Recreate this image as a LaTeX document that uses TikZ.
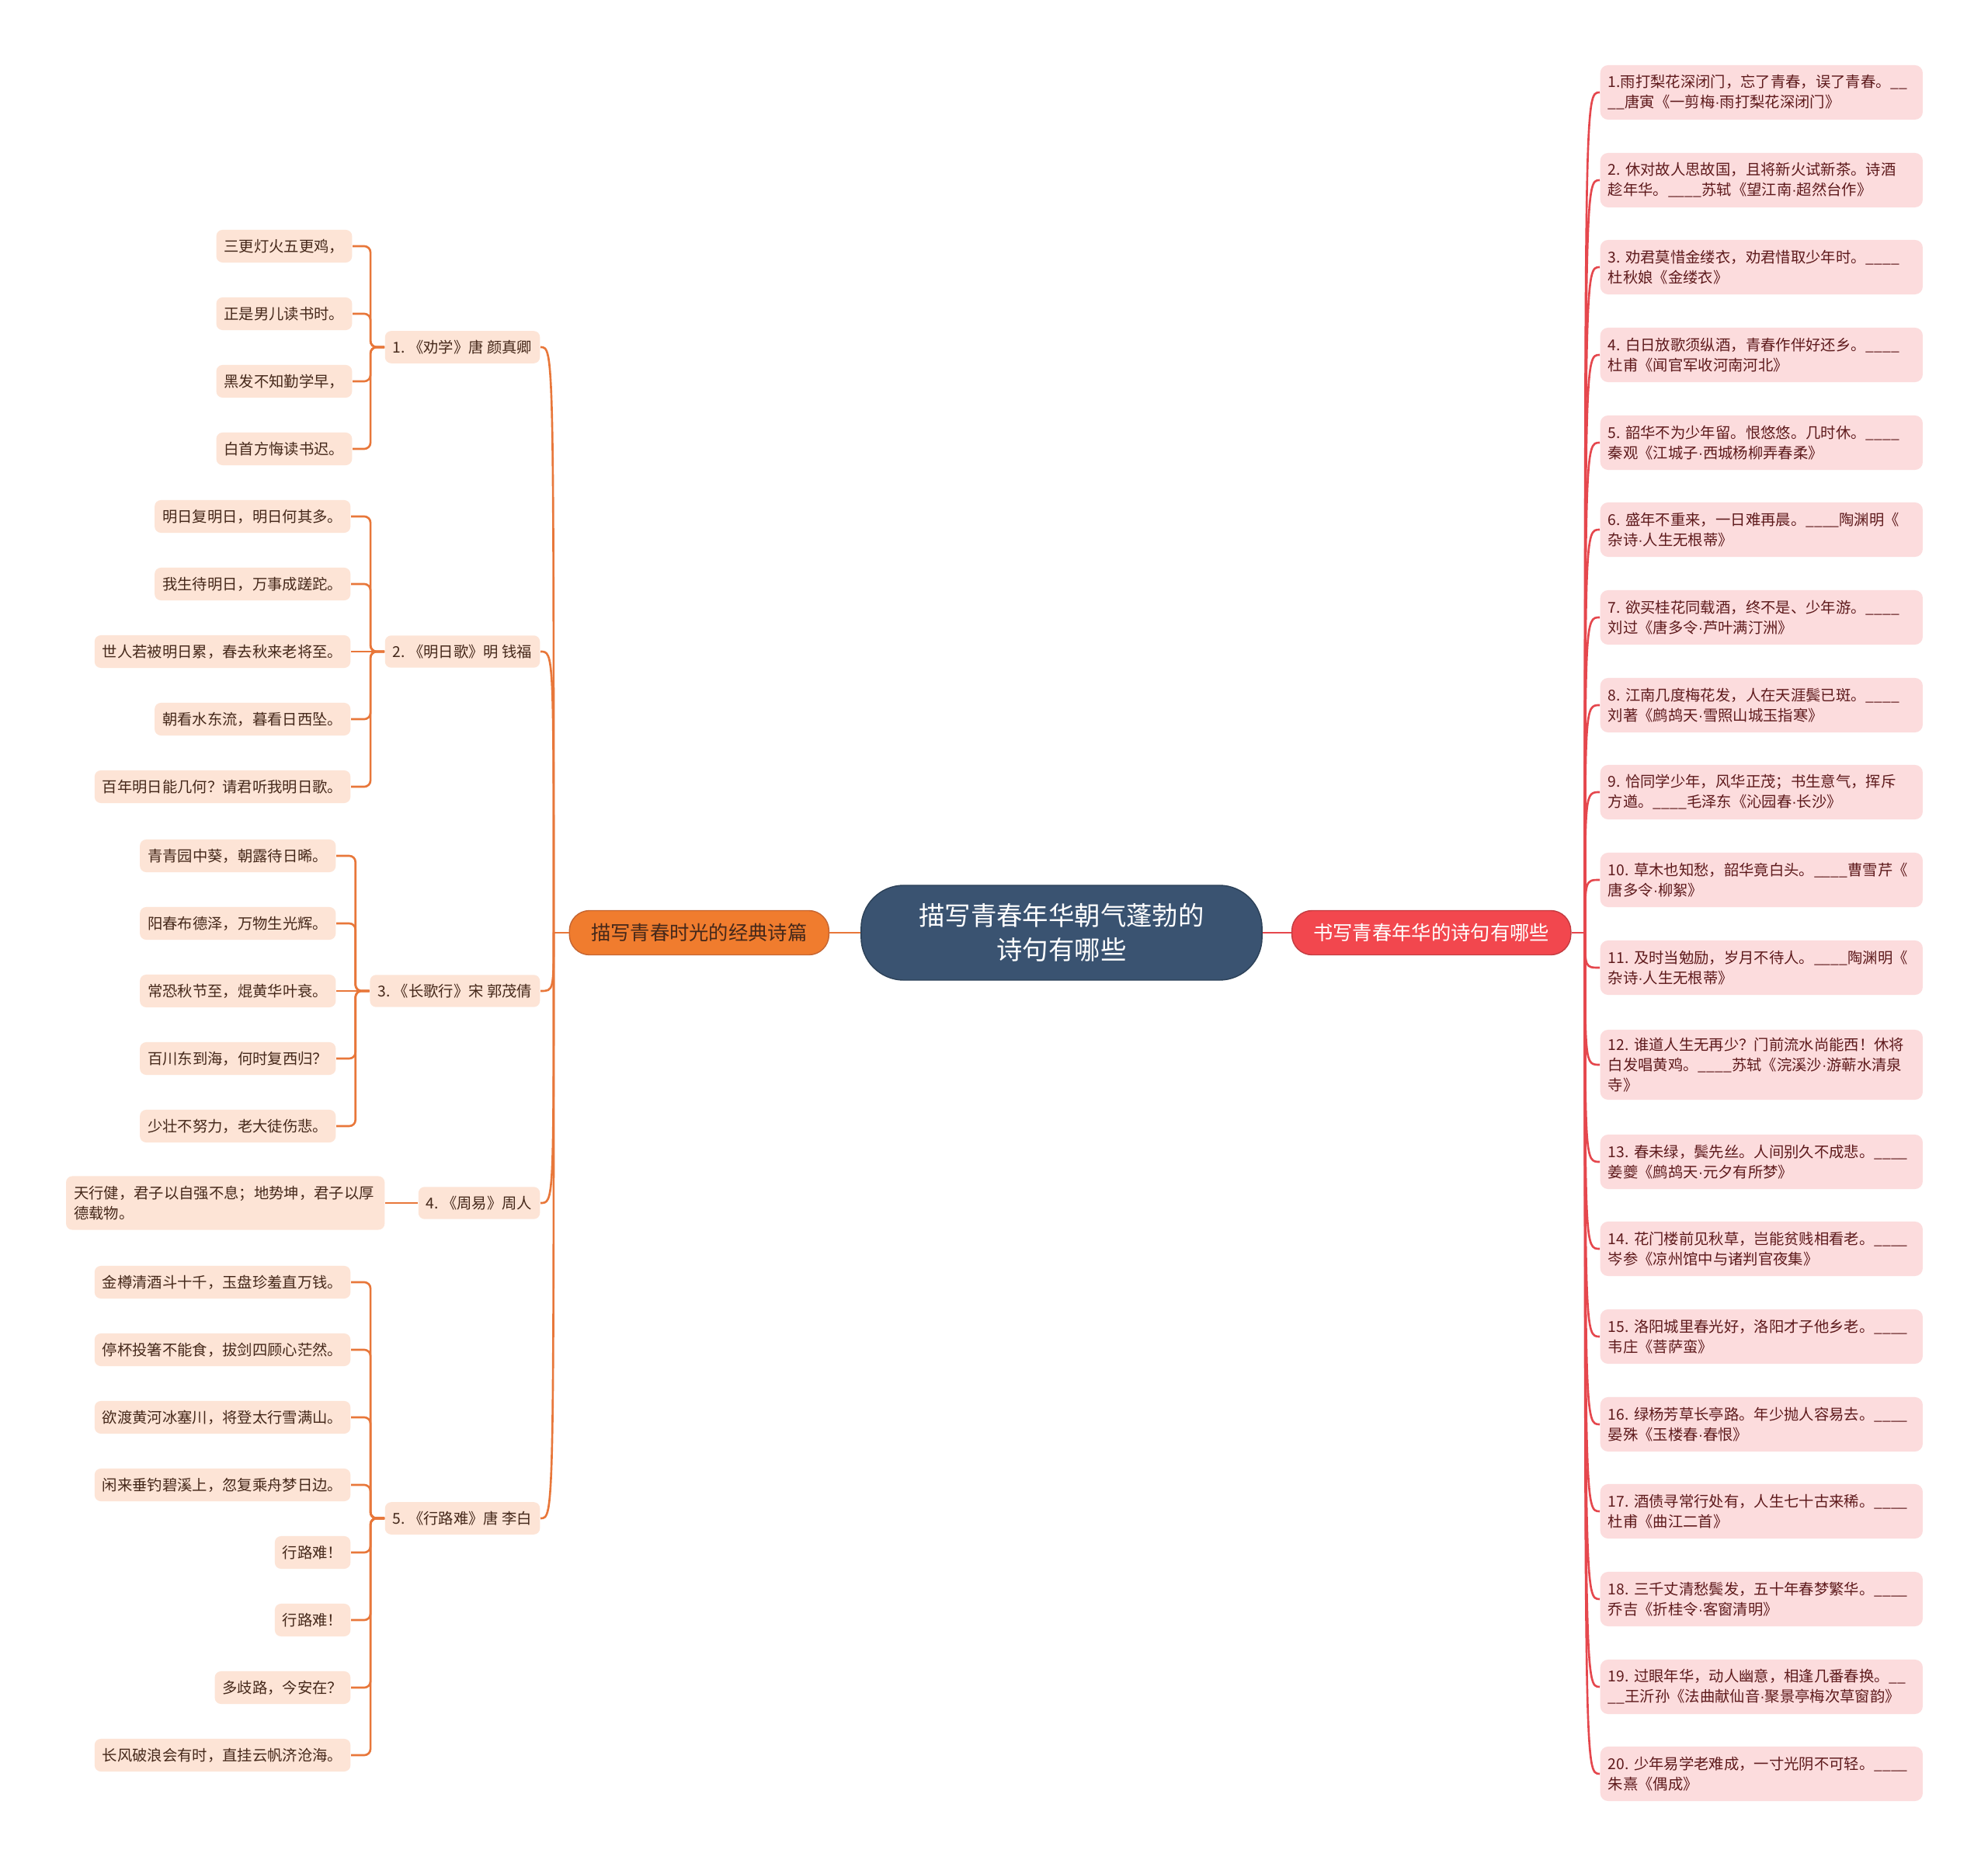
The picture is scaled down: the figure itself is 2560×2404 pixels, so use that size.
\documentclass[tikz,border=0pt]{standalone}
\usepackage{fontspec}
\setmainfont{Noto Sans CJK SC}
\newfontfamily\latinfont{Liberation Sans}
\usepackage{xcolor}
\usepackage{tikz}
\usetikzlibrary{positioning, calc}
\definecolor{rootblue}{HTML}{3A5371}
\definecolor{rootedge}{HTML}{2C4158}
\definecolor{leftfill}{HTML}{F07C2E}
\definecolor{leftline}{HTML}{E8773A}
\definecolor{peach}{HTML}{FDE4D6}
\definecolor{rightfill}{HTML}{F2474E}
\definecolor{rightline}{HTML}{E5474D}
\definecolor{pinkbox}{HTML}{FCDCDD}
\definecolor{inkbrown}{HTML}{45281A}
\definecolor{inkred}{HTML}{5E1A1C}
\tikzstyle{root} = [rectangle, rounded corners=0.55cm, minimum width=5.16cm, minimum height=1.22cm, align=center, fill=rootblue, draw=rootedge, text=white, font=\fontsize{9.5}{12.5}\selectfont]
\tikzstyle{branchl} = [rectangle, rounded corners=0.26cm, minimum width=3.34cm, minimum height=0.57cm, fill=leftfill, draw=leftline!85!black, text=inkbrown, font=\fontsize{7.2}{9}\selectfont]
\tikzstyle{branchr} = [rectangle, rounded corners=0.26cm, minimum width=3.59cm, minimum height=0.57cm, fill=rightfill, draw=rightline!85!black, text=white, font=\fontsize{7.2}{9}\selectfont]
\tikzstyle{title} = [rectangle, rounded corners=0.08cm, minimum height=0.41cm, inner xsep=0.1cm, fill=peach, text=inkbrown, font=\fontsize{5.5}{7.2}\selectfont]
\tikzstyle{verse} = [rectangle, rounded corners=0.08cm, minimum height=0.42cm, inner xsep=0.1cm, fill=peach, text=inkbrown, font=\fontsize{5.5}{7.2}\selectfont]
\tikzstyle{quote} = [rectangle, rounded corners=0.1cm, text width=3.95cm, minimum height=0.70cm, inner xsep=0.1cm, inner ysep=0.1cm, align=left, fill=pinkbox, text=inkred, font=\fontsize{5.5}{7.4}\selectfont]
\tikzstyle{linkl} = [draw=leftline, line width=0.75pt]
\tikzstyle{linkr} = [draw=rightline, line width=0.75pt]
\tikzstyle{spine} = [draw=leftline, line width=0.75pt, rounded corners=0.08cm]
\newcommand{\blnk}{\_\_\_\_}
\newcommand{\mdot}{{\latinfont ·}}

\begin{document}
\begin{tikzpicture}[x=0.01cm, y=-0.01cm]
    \fill[white] (0,0) rectangle (2560,2404);
    \useasboundingbox (0,0) rectangle (2560,2404);

    % === CENTRE ===
    \node[root] (root) at (1367,1201) {描写青春年华朝气蓬勃的\\诗句有哪些};
    \node[branchl, left=0.4cm of root] (lb) {描写青春时光的经典诗篇};
    \node[branchr, right=0.37cm of root] (rb) {书写青春年华的诗句有哪些};
    \coordinate (tl) at (713,1201);
    \coordinate (tr) at (2041,1201);

    % === LEFT: poem titles ===
    \node[title, anchor=east] (n1) at (696,447) {1.~《劝学》唐 颜真卿};
    \node[title, anchor=east] (n2) at (696,839) {2.~《明日歌》明 钱福};
    \node[title, anchor=east] (n3) at (696,1276) {3.~《长歌行》宋 郭茂倩};
    \node[title, anchor=east] (n4) at (696,1549) {4.~《周易》周人};
    \node[title, anchor=east] (n5) at (696,1955) {5.~《行路难》唐 李白};

    % === LEFT: verses ===
    \node[verse, anchor=east] (a1) at (454,317) {三更灯火五更鸡，};
    \node[verse, anchor=east] (a2) at (454,404) {正是男儿读书时。};
    \node[verse, anchor=east] (a3) at (454,491) {黑发不知勤学早，};
    \node[verse, anchor=east] (a4) at (454,578) {白首方悔读书迟。};

    \node[verse, anchor=east] (b1) at (452,665) {明日复明日，明日何其多。};
    \node[verse, anchor=east] (b2) at (452,752) {我生待明日，万事成蹉跎。};
    \node[verse, anchor=east] (b3) at (452,839) {世人若被明日累，春去秋来老将至。};
    \node[verse, anchor=east] (b4) at (452,926) {朝看水东流，暮看日西坠。};
    \node[verse, anchor=east] (b5) at (452,1013) {百年明日能几何？请君听我明日歌。};

    \node[verse, anchor=east] (c1) at (433,1102) {青青园中葵，朝露待日晞。};
    \node[verse, anchor=east] (c2) at (433,1189) {阳春布德泽，万物生光辉。};
    \node[verse, anchor=east] (c3) at (433,1276) {常恐秋节至，焜黄华叶衰。};
    \node[verse, anchor=east] (c4) at (433,1363) {百川东到海，何时复西归？};
    \node[verse, anchor=east] (c5) at (433,1450) {少壮不努力，老大徒伤悲。};

    \node[verse, anchor=east, text width=3.9cm, align=left, minimum height=0.69cm] (d1) at (496,1549) {天行健，君子以自强不息；地势坤，君子以厚\\德载物。};

    \node[verse, anchor=east] (e1) at (452,1651) {金樽清酒斗十千，玉盘珍羞直万钱。};
    \node[verse, anchor=east] (e2) at (452,1738) {停杯投箸不能食，拔剑四顾心茫然。};
    \node[verse, anchor=east] (e3) at (452,1825) {欲渡黄河冰塞川，将登太行雪满山。};
    \node[verse, anchor=east] (e4) at (452,1912) {闲来垂钓碧溪上，忽复乘舟梦日边。};
    \node[verse, anchor=east] (e5) at (452,1999) {行路难！};
    \node[verse, anchor=east] (e6) at (452,2086) {行路难！};
    \node[verse, anchor=east] (e7) at (452,2173) {多歧路，今安在？};
    \node[verse, anchor=east] (e8) at (452,2260) {长风破浪会有时，直挂云帆济沧海。};

    % === RIGHT: quotations ===
    \node[quote, anchor=west] (r1) at (2060,119) {1.雨打梨花深闭门，忘了青春，误了青春。\_\_\\\_\_唐寅《一剪梅\mdot 雨打梨花深闭门》};
    \node[quote, anchor=west] (r2) at (2060,232) {2.~休对故人思故国，且将新火试新茶。诗酒\\趁年华。\blnk 苏轼《望江南\mdot 超然台作》};
    \node[quote, anchor=west] (r3) at (2060,344) {3.~劝君莫惜金缕衣，劝君惜取少年时。\blnk\\杜秋娘《金缕衣》};
    \node[quote, anchor=west] (r4) at (2060,457) {4.~白日放歌须纵酒，青春作伴好还乡。\blnk\\杜甫《闻官军收河南河北》};
    \node[quote, anchor=west] (r5) at (2060,570) {5.~韶华不为少年留。恨悠悠。几时休。\blnk\\秦观《江城子\mdot 西城杨柳弄春柔》};
    \node[quote, anchor=west] (r6) at (2060,682) {6.~盛年不重来，一日难再晨。\blnk 陶渊明《\\杂诗\mdot 人生无根蒂》};
    \node[quote, anchor=west] (r7) at (2060,795) {7.~欲买桂花同载酒，终不是、少年游。\blnk\\刘过《唐多令\mdot 芦叶满汀洲》};
    \node[quote, anchor=west] (r8) at (2060,908) {8.~江南几度梅花发，人在天涯鬓已斑。\blnk\\刘著《鹧鸪天\mdot 雪照山城玉指寒》};
    \node[quote, anchor=west] (r9) at (2060,1020) {9.~恰同学少年，风华正茂；书生意气，挥斥\\方遒。\blnk 毛泽东《沁园春\mdot 长沙》};
    \node[quote, anchor=west] (r10) at (2060,1133) {10.~草木也知愁，韶华竟白头。\blnk 曹雪芹《\\唐多令\mdot 柳絮》};
    \node[quote, anchor=west] (r11) at (2060,1246) {11.~及时当勉励，岁月不待人。\blnk 陶渊明《\\杂诗\mdot 人生无根蒂》};
    \node[quote, anchor=west] (r12) at (2060,1371) {12.~谁道人生无再少？门前流水尚能西！休将\\白发唱黄鸡。\blnk 苏轼《浣溪沙\mdot 游蕲水清泉\\寺》};
    \node[quote, anchor=west] (r13) at (2060,1496) {13.~春未绿，鬓先丝。人间别久不成悲。\blnk\\姜夔《鹧鸪天\mdot 元夕有所梦》};
    \node[quote, anchor=west] (r14) at (2060,1608) {14.~花门楼前见秋草，岂能贫贱相看老。\blnk\\岑参《凉州馆中与诸判官夜集》};
    \node[quote, anchor=west] (r15) at (2060,1721) {15.~洛阳城里春光好，洛阳才子他乡老。\blnk\\韦庄《菩萨蛮》};
    \node[quote, anchor=west] (r16) at (2060,1834) {16.~绿杨芳草长亭路。年少抛人容易去。\blnk\\晏殊《玉楼春\mdot 春恨》};
    \node[quote, anchor=west] (r17) at (2060,1946) {17.~酒债寻常行处有，人生七十古来稀。\blnk\\杜甫《曲江二首》};
    \node[quote, anchor=west] (r18) at (2060,2059) {18.~三千丈清愁鬓发，五十年春梦繁华。\blnk\\乔吉《折桂令\mdot 客窗清明》};
    \node[quote, anchor=west] (r19) at (2060,2172) {19.~过眼年华，动人幽意，相逢几番春换。\_\_\\\_\_王沂孙《法曲献仙音\mdot 聚景亭梅次草窗韵》};
    \node[quote, anchor=west] (r20) at (2060,2284) {20.~少年易学老难成，一寸光阴不可轻。\blnk\\朱熹《偶成》};

    % ===== CONNECTORS =====
    % centre -> branches
    \draw[linkl] (root.west) -- (lb.east);
    \draw[linkr] (root.east) -- (rb.west);
    \draw[linkl] (lb.west) -- (tl);
    \draw[linkr] (rb.east) -- (tr);

    % left branch -> titles
    \draw[linkl] (tl) .. controls (tl |- n1.east) .. (n1.east);
    \draw[linkl] (tl) .. controls (tl |- n2.east) .. (n2.east);
    \draw[linkl] (tl) .. controls (tl |- n3.east) .. (n3.east);
    \draw[linkl] (tl) .. controls (tl |- n4.east) .. (n4.east);
    \draw[linkl] (tl) .. controls (tl |- n5.east) .. (n5.east);

    % titles -> verses (bracket)
    \draw[spine] (n1.west) -- ++(-18,0) |- (a1.east);
    \draw[spine] (n1.west) -- ++(-18,0) |- (a2.east);
    \draw[spine] (n1.west) -- ++(-18,0) |- (a3.east);
    \draw[spine] (n1.west) -- ++(-18,0) |- (a4.east);
    \draw[spine] (n2.west) -- ++(-18,0) |- (b1.east);
    \draw[spine] (n2.west) -- ++(-18,0) |- (b2.east);
    \draw[spine] (n2.west) -- (b3.east);
    \draw[spine] (n2.west) -- ++(-18,0) |- (b4.east);
    \draw[spine] (n2.west) -- ++(-18,0) |- (b5.east);
    \draw[spine] (n3.west) -- ++(-18,0) |- (c1.east);
    \draw[spine] (n3.west) -- ++(-18,0) |- (c2.east);
    \draw[spine] (n3.west) -- (c3.east);
    \draw[spine] (n3.west) -- ++(-18,0) |- (c4.east);
    \draw[spine] (n3.west) -- ++(-18,0) |- (c5.east);
    \draw[spine] (n4.west) -- (d1.east);
    \draw[spine] (n5.west) -- ++(-18,0) |- (e1.east);
    \draw[spine] (n5.west) -- ++(-18,0) |- (e2.east);
    \draw[spine] (n5.west) -- ++(-18,0) |- (e3.east);
    \draw[spine] (n5.west) -- ++(-18,0) |- (e4.east);
    \draw[spine] (n5.west) -- ++(-18,0) |- (e5.east);
    \draw[spine] (n5.west) -- ++(-18,0) |- (e6.east);
    \draw[spine] (n5.west) -- ++(-18,0) |- (e7.east);
    \draw[spine] (n5.west) -- ++(-18,0) |- (e8.east);

    % right branch -> quotations
    \draw[linkr] (tr) .. controls (tr |- r1.west) .. (r1.west);
    \draw[linkr] (tr) .. controls (tr |- r2.west) .. (r2.west);
    \draw[linkr] (tr) .. controls (tr |- r3.west) .. (r3.west);
    \draw[linkr] (tr) .. controls (tr |- r4.west) .. (r4.west);
    \draw[linkr] (tr) .. controls (tr |- r5.west) .. (r5.west);
    \draw[linkr] (tr) .. controls (tr |- r6.west) .. (r6.west);
    \draw[linkr] (tr) .. controls (tr |- r7.west) .. (r7.west);
    \draw[linkr] (tr) .. controls (tr |- r8.west) .. (r8.west);
    \draw[linkr] (tr) .. controls (tr |- r9.west) .. (r9.west);
    \draw[linkr] (tr) .. controls (tr |- r10.west) .. (r10.west);
    \draw[linkr] (tr) .. controls (tr |- r11.west) .. (r11.west);
    \draw[linkr] (tr) .. controls (tr |- r12.west) .. (r12.west);
    \draw[linkr] (tr) .. controls (tr |- r13.west) .. (r13.west);
    \draw[linkr] (tr) .. controls (tr |- r14.west) .. (r14.west);
    \draw[linkr] (tr) .. controls (tr |- r15.west) .. (r15.west);
    \draw[linkr] (tr) .. controls (tr |- r16.west) .. (r16.west);
    \draw[linkr] (tr) .. controls (tr |- r17.west) .. (r17.west);
    \draw[linkr] (tr) .. controls (tr |- r18.west) .. (r18.west);
    \draw[linkr] (tr) .. controls (tr |- r19.west) .. (r19.west);
    \draw[linkr] (tr) .. controls (tr |- r20.west) .. (r20.west);
\end{tikzpicture}
\end{document}
